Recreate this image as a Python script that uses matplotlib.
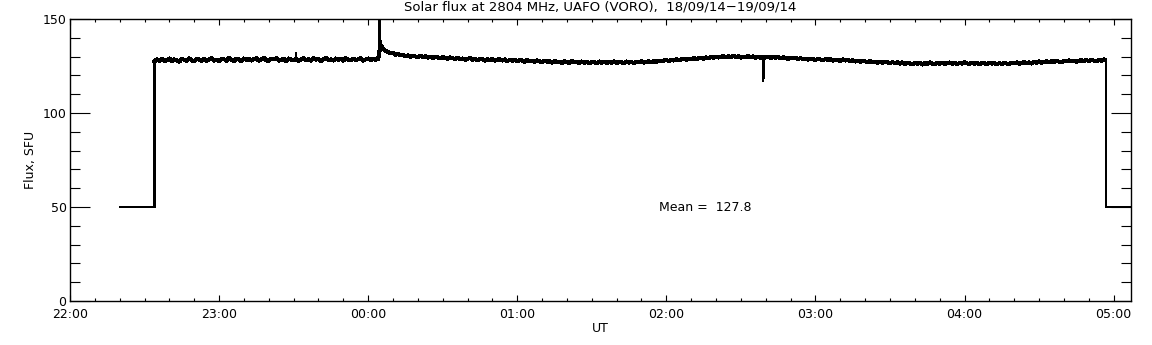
"""Solar flux at 2804 MHz, UAFO (VORO), 18/09/14-19/09/14 -- IDL-style daily plot."""

import numpy as np
import matplotlib
matplotlib.use("Agg")
import matplotlib.pyplot as plt
from matplotlib.ticker import MultipleLocator

TITLE = "Solar flux at 2804 MHz, UAFO (VORO),  18/09/14\u221219/09/14"
MEAN_FLUX = 127.8

# hour ticks (hours after 00:00 of 18/09, wrapping past midnight)
HOUR_TICKS = [22, 23, 24, 25, 26, 27, 28, 29]
HOUR_LABELS = ["22:00", "23:00", "00:00", "01:00", "02:00", "03:00", "04:00", "05:00"]

# calibration level before/after the solar track (minutes after 22:00, SFU)
PRE_T = [20.0, 34.0]
PRE_V = [50.0, 50.0]
POST_T = [417.0, 430.0]
POST_V = [50.0, 50.0]

# solar track, one reading per minute from 22:34 to 04:56
TRACK_START = 34.0
TRACK_STEP = 1.0
TRACK_V = [
    127.4, 128.6, 127.8, 128.9, 127.6, 128.2, 129.0, 127.5, 128.5, 128.1, 127.3, 128.8, 128.3, 127.7, 129.1, 128.0, 127.6, 128.7, 128.4, 127.8,
    128.9, 127.7, 128.5, 129.2, 127.9, 128.3, 127.5, 128.8, 128.6, 127.8, 129.3, 128.1, 127.7, 128.9, 128.4, 127.6, 129.0, 128.2, 128.7, 127.9,
    128.6, 129.1, 127.8, 128.4, 129.3, 128.0, 127.7, 128.9, 128.5, 129.2, 127.9, 128.3, 128.8, 127.6, 129.0, 128.4, 128.1, 128.9, 127.8, 128.6,
    129.2, 128.0, 128.7, 127.9, 129.1, 128.4, 128.8, 127.7, 128.6, 129.3, 128.1, 128.5, 127.9, 129.0, 128.3, 128.8, 127.8, 129.2, 128.4, 128.0,
    128.9, 128.2, 128.6, 129.3, 127.9, 128.5, 129.0, 128.1, 128.7, 128.4, 128.7, 136.2, 134.0, 133.1, 132.4, 131.7, 131.9, 131.0, 131.3, 130.6,
    130.9, 130.2, 130.7, 129.9, 130.5, 130.1, 129.6, 130.4, 129.8, 130.2, 129.5, 130.0, 129.3, 129.9, 129.6, 129.1, 129.8, 129.3, 128.9, 129.6,
    129.1, 128.7, 129.4, 128.5, 129.0, 128.3, 128.9, 129.2, 128.4, 128.8, 128.1, 128.9, 128.5, 127.9, 128.7, 128.2, 128.8, 127.8, 128.4, 128.6,
    127.9, 128.5, 127.6, 128.3, 127.8, 128.4, 127.5, 128.1, 127.9, 127.3, 128.2, 127.6, 127.9, 127.2, 128.0, 127.5, 126.9, 127.8, 127.3, 127.6,
    126.8, 127.7, 127.1, 127.4, 126.6, 127.5, 127.0, 126.7, 127.6, 126.9, 127.3, 126.5, 127.4, 126.8, 127.2, 126.4, 127.3, 127.0, 126.6, 127.4,
    126.7, 127.3, 126.5, 127.1, 126.8, 127.5, 126.6, 127.2, 126.9, 126.4, 127.4, 126.8, 127.1, 126.5, 127.3, 126.9, 127.6, 126.8, 127.2, 127.5,
    127.0, 127.6, 127.2, 127.8, 127.4, 127.9, 128.2, 127.6, 128.3, 127.9, 128.6, 128.1, 128.5, 128.9, 128.3, 129.0, 128.6, 129.2, 128.7, 129.1,
    129.4, 128.9, 129.6, 129.2, 129.8, 129.3, 130.0, 129.5, 129.9, 130.3, 129.6, 130.1, 129.7, 130.4, 129.8, 130.2, 129.5, 130.0, 129.7, 130.3,
    129.6, 130.1, 129.4, 129.9, 129.3, 129.8, 129.5, 130.0, 129.2, 129.7, 129.4, 129.9, 129.1, 129.6, 129.3, 128.8, 129.5, 129.0, 129.4, 128.7,
    129.2, 128.6, 129.0, 128.4, 128.9, 128.7, 128.2, 128.8, 128.5, 128.0, 128.7, 128.3, 128.6, 127.9, 128.4, 128.1, 127.7, 128.5, 127.9, 128.2,
    127.6, 128.1, 127.4, 127.9, 127.2, 127.7, 127.5, 126.9, 127.6, 127.1, 127.4, 126.8, 127.3, 126.7, 127.2, 126.9, 126.5, 127.1, 126.6, 127.0,
    126.3, 126.9, 126.1, 126.7, 126.4, 125.9, 126.8, 126.2, 126.6, 125.8, 126.5, 126.1, 126.9, 126.3, 125.9, 126.6, 126.2, 126.8, 126.0, 126.5,
    126.9, 126.2, 126.7, 126.0, 126.6, 126.3, 127.0, 126.4, 126.1, 126.8, 126.2, 126.6, 125.9, 126.7, 126.4, 126.0, 126.8, 126.3, 126.6, 125.9,
    126.5, 126.1, 126.8, 126.3, 126.0, 126.7, 126.4, 126.9, 126.2, 126.6, 127.1, 126.5, 126.9, 126.3, 127.2, 126.8, 127.4, 126.7, 127.1, 127.5,
    126.9, 127.6, 127.2, 127.8, 127.3, 127.0, 127.7, 127.4, 128.0, 127.5, 127.9, 127.2, 127.8, 128.1, 127.6, 128.2, 127.7, 128.3, 127.9, 127.5,
    128.2, 127.8, 128.4,
]

# short events between the readings: spike 23:31, flare peak 00:04, dip 02:39
EVENT_T = [90.8, 91.0, 91.2, 124.4, 124.55, 124.75, 278.8, 279.0, 279.2]
EVENT_V = [128.6, 131.6, 128.4, 128.8, 162.0, 141.0, 129.3, 117.0, 129.2]

X_MIN, X_MAX = 0.0, 427.0  # minutes after 22:00


def to_hours(minutes):
    return 22.0 + np.asarray(minutes) / 60.0


def main():
    track_t = TRACK_START + TRACK_STEP * np.arange(len(TRACK_V))
    t = np.concatenate([track_t, EVENT_T])
    v = np.concatenate([TRACK_V, EVENT_V])
    order = np.argsort(t)
    t, v = t[order], v[order]
    # calibration steps at both ends of the track
    t = np.concatenate([PRE_T, t, [POST_T[0]], POST_T])
    v = np.concatenate([PRE_V, v, [v[-1]], POST_V])

    plt.rcParams["font.family"] = "DejaVu Sans"
    fig = plt.figure(figsize=(11.52, 3.45), dpi=100)
    ax = fig.add_axes([70 / 1152, 1 - 301 / 345, 1061 / 1152, 282 / 345])

    # thin full record (steps + events), thicker noisy solar track on top
    # (IDL output is not antialiased)
    ax.plot(to_hours(t), v, color="black", linewidth=1.0, antialiased=False)
    ax.plot(to_hours(track_t), TRACK_V, color="black", linewidth=2.2,
            antialiased=False)
    ax.set_xlim(to_hours(X_MIN), to_hours(X_MAX))
    ax.set_ylim(0, 150)

    ax.set_xticks(HOUR_TICKS)
    ax.set_xticklabels(HOUR_LABELS)
    ax.xaxis.set_minor_locator(MultipleLocator(1 / 6))
    ax.yaxis.set_major_locator(MultipleLocator(50))
    ax.yaxis.set_minor_locator(MultipleLocator(10))

    ax.tick_params(which="both", direction="in", top=True, right=True,
                   labelsize=9, width=0.8, colors="black")
    ax.tick_params(axis="x", which="major", length=4.5, pad=5)
    ax.tick_params(axis="x", which="minor", length=2.2)
    ax.tick_params(axis="y", which="major", length=14.5, pad=2.5)
    ax.tick_params(axis="y", which="minor", length=7.5)
    for s in ax.spines.values():
        s.set_linewidth(1.0)

    ax.set_title(TITLE, fontsize=9.5, pad=6)
    ax.set_xlabel("UT", fontsize=9, labelpad=1)
    ax.set_ylabel("Flux, SFU", fontsize=9, labelpad=4)
    ax.text(0.555, 0.33, f"Mean =  {MEAN_FLUX:.1f}", transform=ax.transAxes,
            fontsize=9, va="center", ha="left")

    fig.savefig("out.png", dpi=100)


if __name__ == "__main__":
    main()
